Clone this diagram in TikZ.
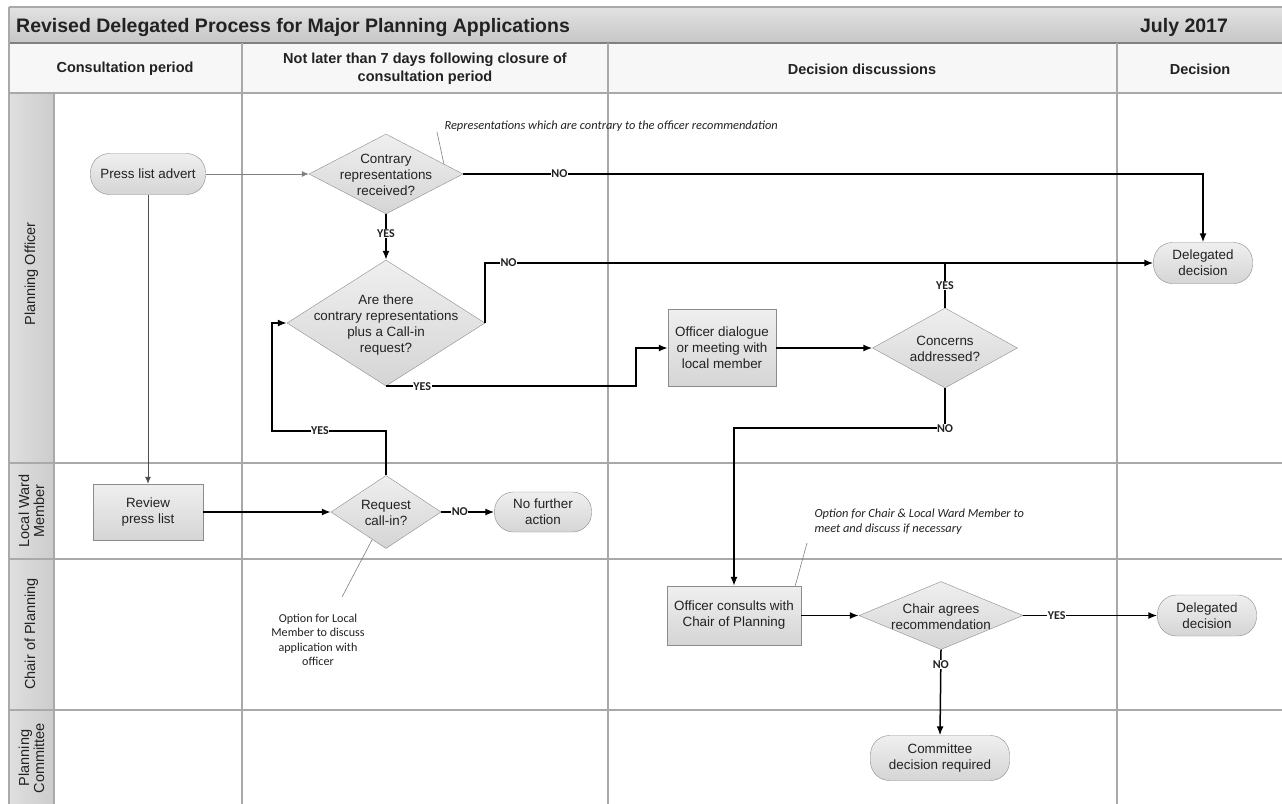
\documentclass[tikz,border=0pt]{standalone}
\usepackage{fontspec}
\setmainfont{Liberation Sans}
\newfontfamily\notefont{Carlito}
\usepackage{tikz}
\usetikzlibrary{shapes.geometric,arrows.meta,calc}

\definecolor{gridgrey}{HTML}{A9A9A9}
\definecolor{edgegrey}{HTML}{8C8C8C}
\definecolor{filltop}{HTML}{EFEFEF}
\definecolor{fillbot}{HTML}{D5D5D5}
\definecolor{ink}{HTML}{222222}
\definecolor{bartop}{HTML}{E2E2E2}
\definecolor{barbot}{HTML}{C6C6C6}
\definecolor{headfill}{HTML}{F7F7F7}

\newcommand{\dtext}[1]{\makebox[0pt]{\smash{\raisebox{-6.3pt}{\begin{tabular}{@{}c@{}}#1\end{tabular}}}}}

\begin{document}
\begin{tikzpicture}[x=1pt,y=-1pt,
		proc/.style={rectangle,draw=edgegrey,top color=filltop,bottom color=fillbot,text=ink,align=center,inner sep=1pt,font=\fontsize{13.4}{16}\selectfont},
		term/.style={proc,rounded corners=19pt},
		dec/.style={diamond,draw=edgegrey,top color=filltop,bottom color=fillbot,text=ink,inner sep=0pt,font=\fontsize{13.4}{16}\selectfont},
		flow/.style={draw=black,line width=1.5pt,-{Latex[length=9pt,width=7pt]}},
		thinflow/.style={draw=ink!80,line width=1pt,-{Latex[length=7pt,width=6pt]}},
		yn/.style={fill=white,inner sep=0.5pt,text=ink,font=\notefont\bfseries\fontsize{12}{13}\selectfont},
		note/.style={align=center,text=ink,font=\notefont\fontsize{12.1}{14.5}\selectfont},
		noteit/.style={text=ink,font=\notefont\itshape\fontsize{12.4}{15}\selectfont},
		leader/.style={draw=gray,line width=0.6pt},
		lanelabel/.style={rotate=90,align=center,text=ink,font=\fontsize{14.5}{15}\selectfont},
		colhead/.style={align=center,text=ink,font=\bfseries\fontsize{14.5}{18}\selectfont},
		gridline/.style={draw=gridgrey,line width=1.2pt}]
	\useasboundingbox (0,0) rectangle (1282,803);
	\fill[white] (0,0) rectangle (1282,803);
	\shade[top color=bartop,bottom color=barbot] (9,7) rectangle (1290,43);
	\fill[headfill] (9,43) rectangle (1290,93);
	\shade[left color=gray!25,right color=gray!40] (9,93) rectangle (54,810);
	\draw[gridline] (9,7) -- (1290,7);
	\draw[gridline,draw=gray] (9,43) -- (1290,43);
	\draw[gridline] (9,93) -- (1290,93);
	\draw[gridline] (9,463) -- (1290,463);
	\draw[gridline] (9,559) -- (1290,559);
	\draw[gridline] (9,710) -- (1290,710);
	\draw[gridline] (9,7) -- (9,810);
	\draw[gridline] (54,93) -- (54,810);
	\draw[gridline] (242,43) -- (242,810);
	\draw[gridline] (608,43) -- (608,810);
	\draw[gridline] (1117,43) -- (1117,810);

	\node[anchor=base west,inner sep=0pt,text=ink,font=\bfseries\fontsize{19.5}{22}\selectfont] (title) at (16,32) {Revised Delegated Process for Major Planning Applications};
	\node[anchor=base,inner sep=0pt,text=ink,font=\bfseries\fontsize{19.5}{22}\selectfont] (date) at (1184,32) {July 2017};
	\node[colhead] (headA) at (125,69) {Consultation period};
	\node[colhead] (headB) at (425,69) {Not later than 7 days following closure of\\consultation period};
	\node[colhead] (headC) at (862,69) {Decision discussions};
	\node[colhead] (headD) at (1200,69) {Decision};
	\node[lanelabel] (laneA) at (31.5,274) {Planning Officer};
	\node[lanelabel] (laneB) at (31.5,511) {Local Ward\\Member};
	\node[lanelabel] (laneC) at (31.5,634) {Chair of Planning};
	\node[lanelabel] (laneD) at (31.5,758) {Planning\\Committee};

	\node[term,minimum width=115pt,minimum height=41pt] (press) at (148,174) {Press list advert};
	\node[dec,minimum width=154pt,minimum height=80pt] (contrary) at (386,174) {\dtext{Contrary\\representations\\received?}};
	\node[dec,minimum width=198pt,minimum height=126pt] (callin) at (386,323) {\dtext{Are there\\contrary representations\\plus a Call-in\\request?}};
	\node[proc,minimum width=108pt,minimum height=77pt] (dialogue) at (722,348) {Officer dialogue\\or meeting with\\local member};
	\node[dec,minimum width=145pt,minimum height=80pt] (concerns) at (945,348) {\dtext{Concerns\\addressed?}};
	\node[term,minimum width=99pt,minimum height=41pt] (delegA) at (1203,263) {Delegated\\decision};
	\node[proc,minimum width=110pt,minimum height=56pt] (review) at (148,512) {Review\\press list};
	\node[dec,minimum width=110pt,minimum height=73pt] (request) at (386,512) {\dtext{Request\\call-in?}};
	\node[term,minimum width=97pt,minimum height=40pt] (nofurther) at (543,512) {No further\\action};
	\node[proc,minimum width=134pt,minimum height=59pt] (consults) at (734,615.5) {Officer consults with\\Chair of Planning};
	\node[dec,minimum width=164pt,minimum height=68pt] (chair) at (941,615.5) {\dtext{Chair agrees\\recommendation}};
	\node[term,minimum width=99pt,minimum height=41pt] (delegB) at (1207,615.5) {Delegated\\decision};
	\node[term,minimum width=139pt,minimum height=45pt] (committee) at (940,758) {Committee\\decision required};

	\coordinate (bendA) at (636,348);
	\coordinate (bendB) at (272,431);
	\draw[thinflow,draw=gray] (press.east) -- (contrary.west);
	\draw[thinflow] (press.south) -- (review.north);
	\draw[flow] (contrary.east) -- node[yn,pos=0.13]{NO} (contrary.east -| delegA.north) -- (delegA.north);
	\draw[flow] (contrary.south) -- node[yn,pos=0.43]{YES} (callin.north);
	\draw[flow] (callin.east) -- (callin.east |- delegA.west) -- node[yn,pos=0.035]{NO} (delegA.west);
	\draw[flow] (callin.south) -- node[yn,pos=0.145]{YES} (callin.south -| bendA) |- (dialogue.west);
	\draw[flow] (dialogue.east) -- (concerns.west);
	\draw[flow,-] (concerns.north) -- node[yn]{YES} (concerns.north |- delegA.west);
	\draw[flow] (concerns.south) -- ++(0,40) node[yn]{NO} -| (consults.north);
	\draw[flow] (review.east) -- (request.west);
	\draw[flow] (request.north) |- node[yn,pos=0.79]{YES} (bendB) |- (callin.west);
	\draw[flow] (request.east) -- node[yn,pos=0.35]{NO} (nofurther.west);
	\draw[flow] (consults.east) -- (chair.west);
	\draw[flow] (chair.east) -- node[yn,pos=0.25]{YES} (delegB.west);
	\draw[flow] (chair.south) -- node[yn,pos=0.17]{NO} (committee.north);

	\node[noteit,anchor=west] (noteA) at (441,126) {Representations which are contrary to the officer recommendation};
	\coordinate (noteAfoot) at (437,132);
	\draw[leader] (noteAfoot) -- ($(contrary.north)!0.75!(contrary.east)$);
	\node[note] (noteB) at (318,640) {Option for Local\\Member to discuss\\application with\\officer};
	\coordinate (noteBtip) at (342,597);
	\draw[leader] ($(request.west)!0.75!(request.south)$) -- (noteBtip);
	\node[noteit,anchor=west,align=left] (noteC) at (811,522) {Option for Chair \& Local Ward Member to\\meet and discuss if necessary};
	\coordinate (noteCfoot) at (807,543);
	\draw[leader] (noteCfoot) -- ($(consults.north east)+(-6,0)$);
\end{tikzpicture}
\end{document}
